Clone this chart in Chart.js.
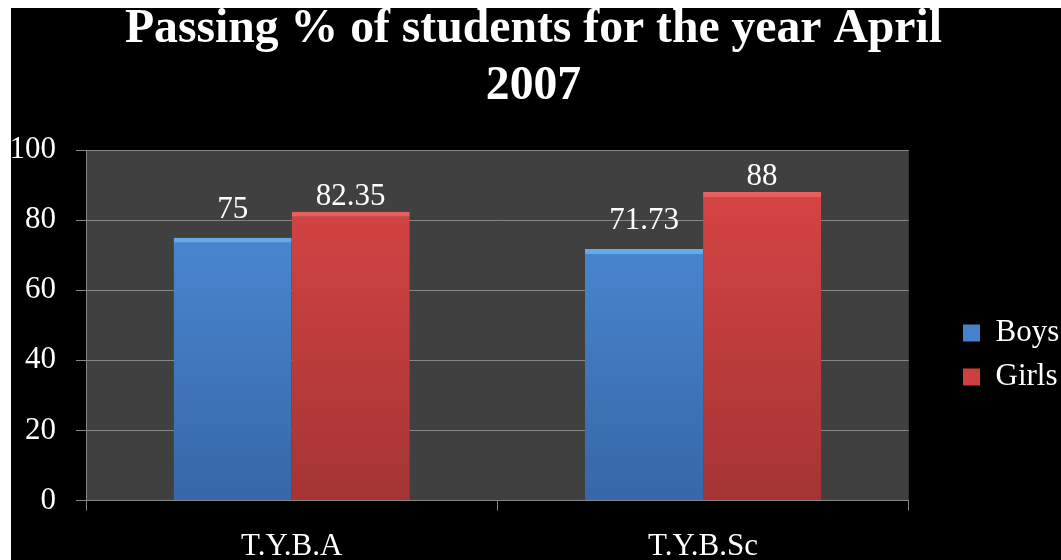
<!DOCTYPE html>
<html><head><meta charset="utf-8">
<script src="https://cdn.jsdelivr.net/npm/chart.js@4.4.1/dist/chart.umd.min.js"></script>
<style>
html,body{margin:0;padding:0;background:#fff;overflow:hidden;width:1061px;height:560px}
#wrap{position:absolute;left:11px;top:8px;width:1050px;height:552px;background:#000}
</style></head><body>
<div id="wrap"><canvas id="c" width="1050" height="552"></canvas></div>
<script>
const categories = ['T.Y.B.A', 'T.Y.B.Sc'];
const seriesNames = ['Boys', 'Girls'];
const boysValues = [75, 71.73];
const girlsValues = [82.35, 88];
const yTicks = [0, 20, 40, 60, 80, 100];
const titleLines = ['Passing % of students for the year April', '2007'];

const SERIF = '"Liberation Serif", "Times New Roman", serif';
Chart.defaults.font.family = SERIF;

function vGrad(top, bottom) {
  return function (ctx) {
    const chart = ctx.chart;
    const a = chart.chartArea;
    if (!a) return top;
    const g = chart.ctx.createLinearGradient(0, a.top, 0, a.bottom);
    g.addColorStop(0, top);
    g.addColorStop(1, bottom);
    return g;
  };
}

const plotBg = {
  id: 'plotBg',
  beforeDraw(chart) {
    const {ctx, chartArea: a} = chart;
    ctx.save();
    ctx.fillStyle = '#404040';
    ctx.fillRect(a.left, a.top, a.right - a.left, a.bottom - a.top);
    // title
    ctx.fillStyle = '#fff';
    ctx.font = 'bold 48px ' + SERIF;
    ctx.textAlign = 'center';
    ctx.textBaseline = 'alphabetic';
    const w = ctx.measureText(titleLines[0]).width;
    const s = 817 / w;
    ctx.translate(522.5, 0);
    ctx.scale(s, 1);
    ctx.fillText(titleLines[0], 0, 34);
    ctx.fillText(titleLines[1], 0, 91);
    ctx.restore();
  }
};

const valueLabels = {
  id: 'valueLabels',
  afterDatasetsDraw(chart) {
    const ctx = chart.ctx;
    ctx.save();
    ctx.font = '31px ' + SERIF;
    ctx.fillStyle = '#fff';
    ctx.textAlign = 'center';
    ctx.textBaseline = 'alphabetic';
    chart.data.datasets.forEach((ds, di) => {
      const meta = chart.getDatasetMeta(di);
      meta.data.forEach((bar, i) => {
        ctx.fillText(String(ds.data[i]), bar.x, bar.y - ds.labelOffset);
      });
    });
    ctx.restore();
  }
};

const legendShift = {
  id: 'legendShift',
  afterLayout(chart) {
    const lg = chart.legend;
    if (!lg) return;
    const cur = lg.left + lg.options.labels.padding;
    const d = 952 - cur;
    lg.left += d;
    lg.right += d;
  }
};

new Chart(document.getElementById('c'), {
  type: 'bar',
  data: {
    labels: categories,
    datasets: [
      {
        label: seriesNames[0],
        data: boysValues,
        backgroundColor: vGrad('#4f90de', '#3767a6'),
        borderColor: '#66a8ec',
        borderWidth: {top: 5, left: 0, right: 0, bottom: 0},
        borderSkipped: false,
        legendColor: '#4682cc',
        labelOffset: 20,
        categoryPercentage: 0.574,
        barPercentage: 1
      },
      {
        label: seriesNames[1],
        data: girlsValues,
        backgroundColor: vGrad('#dc4646', '#a53434'),
        borderColor: '#ea5e5e',
        borderWidth: {top: 5, left: 0, right: 0, bottom: 0},
        borderSkipped: false,
        legendColor: '#cc4040',
        labelOffset: 7,
        categoryPercentage: 0.574,
        barPercentage: 1
      }
    ]
  },
  options: {
    responsive: false,
    animation: false,
    devicePixelRatio: 1,
    layout: {padding: {top: 142, left: 0, right: 33, bottom: 0}},
    plugins: {
      title: {display: false},
      tooltip: {enabled: false},
      legend: {
        position: 'right',
        align: 'center',
        labels: {
          color: '#fff',
          font: {family: SERIF, size: 31},
          boxWidth: 17,
          boxHeight: 17,
          padding: 13,
          generateLabels(chart) {
            return chart.data.datasets.map((ds, i) => ({
              text: ds.label,
              fillStyle: ds.legendColor,
              strokeStyle: ds.legendColor,
              lineWidth: 0,
              hidden: false,
              datasetIndex: i,
              fontColor: '#fff'
            }));
          }
        }
      }
    },
    scales: {
      x: {
        ticks: {color: '#fff', font: {family: SERIF, size: 31}, padding: 18},
        grid: {offset: true, drawOnChartArea: false, drawTicks: true, tickLength: 10, color: '#868686'},
        border: {color: '#868686'},
        afterFit(s) { s.height = 59.5; }
      },
      y: {
        min: 0,
        max: 100,
        ticks: {color: '#fff', font: {family: SERIF, size: 31}, padding: 20, stepSize: 20},
        grid: {color: '#868686', tickColor: '#868686', tickLength: 10, drawTicks: true},
        border: {color: '#868686'},
        afterBuildTicks(s) { s.ticks = yTicks.map(v => ({value: v})); },
        afterFit(s) { s.width = 75; }
      }
    }
  },
  plugins: [plotBg, valueLabels, legendShift]
});
</script>
</body></html>
